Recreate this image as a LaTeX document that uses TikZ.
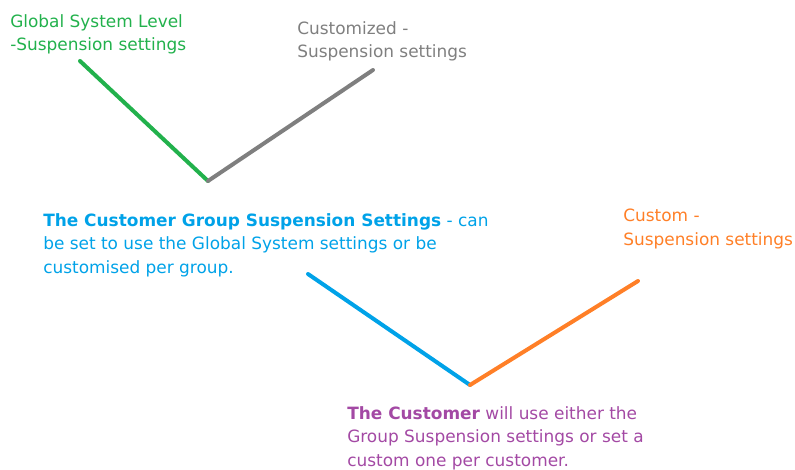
\documentclass[tikz,border=0pt]{standalone}
\usepackage{fontspec}
\setmainfont{DejaVu Sans}
\usepackage{tikz}

\definecolor{pgreen}{HTML}{22B14C}
\definecolor{pgray}{HTML}{7F7F7F}
\definecolor{pblue}{HTML}{00A2E8}
\definecolor{porange}{HTML}{FF7F27}
\definecolor{ppurple}{HTML}{A349A4}

\begin{document}
\begin{tikzpicture}[x=0.75pt,y=-0.75pt]
		\tikzstyle{every node}+=[inner sep=0pt]
		\tikzstyle{note}=[anchor=base west, align=left, font=\fontsize{12.7pt}{17.6pt}\selectfont]
		\tikzstyle{stroke}=[line width=3pt, line cap=round]
		\useasboundingbox (0,0) rectangle (795,470);
		% labels, placed by the baseline of their last line
		\node [note, text=pgreen] (global) at (10,51) {Global System Level\\-Suspension settings};
		\node [note, text=pgray] (customized) at (297,58) {Customized -\\Suspension settings};
		\node [note, text=pblue] (group) at (43,273) {\textbf{The Customer Group Suspension Settings} - can\\be set to use the Global System settings or be\\customised per group.};
		\node [note, text=porange] (custom) at (623,245) {Custom -\\Suspension settings};
		\node [note, text=ppurple] (customer) at (347,466) {\textbf{The Customer} will use either the\\Group Suspension settings or set a\\custom one per customer.};
		% line ends
		\coordinate (g1) at (80,61);
		\coordinate (v1) at (208,181);
		\coordinate (c1) at (373,70);
		\coordinate (g2) at (308,274);
		\coordinate (v2) at (470,385);
		\coordinate (c2) at (638,281);
		% upper pair
		\draw [stroke, pgreen] (g1) -- (v1);
		\draw [stroke, pgray] (v1) -- (c1);
		% lower pair
		\draw [stroke, pblue] (g2) -- (v2);
		\draw [stroke, porange] (v2) -- (c2);
	\end{tikzpicture}
\end{document}
